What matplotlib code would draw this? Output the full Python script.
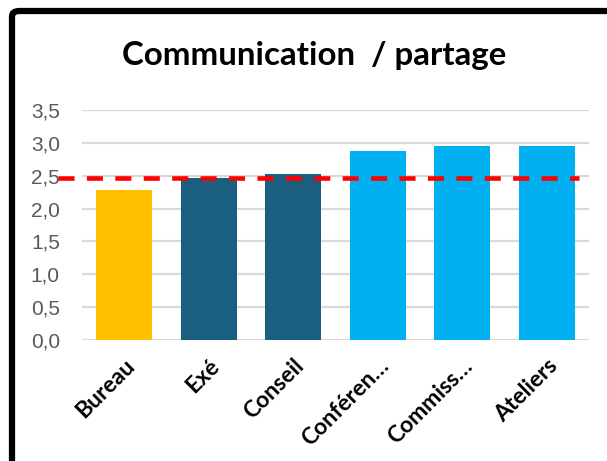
import matplotlib
matplotlib.use("Agg")
import matplotlib.pyplot as plt
from matplotlib.patches import FancyBboxPatch

categories = ["Bureau", "Exé", "Conseil", "Conféren…", "Commiss…", "Ateliers"]
values = [2.28, 2.46, 2.52, 2.87, 2.95, 2.95]
colors = ["#FFC000", "#1A5F80", "#1A5F80", "#00B0F0", "#00B0F0", "#00B0F0"]
average = 2.46
yticks = [0.0, 0.5, 1.0, 1.5, 2.0, 2.5, 3.0, 3.5]
ytick_labels = ["0,0", "0,5", "1,0", "1,5", "2,0", "2,5", "3,0", "3,5"]
title = "Communication  / partage"

W, H = 607, 461
fig = plt.figure(figsize=(W / 100, H / 100), dpi=100)
ax = fig.add_axes([82 / W, 1 - 340 / H, (589 - 82) / W, (340 - 110) / H])

x = list(range(len(categories)))
ax.bar(x, values, width=0.66, color=colors, zorder=3)
ax.set_xlim(-0.5, len(categories) - 0.5)
ax.set_ylim(0, 3.5)
ax.set_yticks(yticks)
ax.set_yticklabels(ytick_labels, fontsize=15, color="#595959", family=["Liberation Sans", "DejaVu Sans"])
ax.yaxis.grid(True, color="#D9D9D9", lw=1.6, zorder=0)
for s in ax.spines.values():
    s.set_visible(False)
ax.tick_params(axis="y", length=0, pad=16)
ax.tick_params(axis="x", length=0, pad=11)
ax.set_xticks(x)
ax.set_xticklabels(categories, rotation=45, ha="right", rotation_mode="anchor",
                   fontsize=16.5, fontweight="bold", color="black", family=["Lato", "DejaVu Sans"])

# average dashed line (extends slightly left past the plot area)
ax.plot([-0.5 - 24 / 84.5, len(categories) - 0.5 - 10 / 84.5], [average, average],
        color="#FF0000", lw=3.3, dashes=(3.5, 2.7), clip_on=False, zorder=4,
        solid_capstyle="butt", dash_capstyle="butt")

fig.text(314 / W, 1 - 55 / H, title, ha="center", va="center", fontsize=23.8,
         fontweight="bold", family=["Lato", "DejaVu Sans"])

# outer chart border
border = FancyBboxPatch((12 / W, -0.2), 1.2, 1 - 11 / H + 0.2, boxstyle="round,pad=0,rounding_size=0.012",
                        transform=fig.transFigure, fill=False, ec="black", lw=4.5, clip_on=False)
fig.patches.append(border)

fig.savefig("out.png", dpi=100)
